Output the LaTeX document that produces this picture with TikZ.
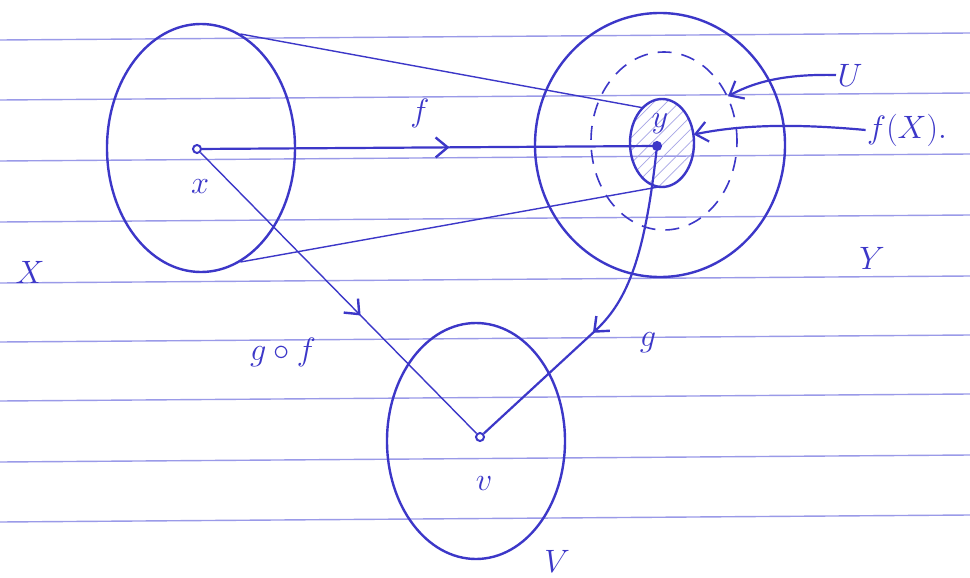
\documentclass[tikz,border=0pt]{standalone}
\usepackage{tikz}
\usetikzlibrary{arrows.meta,shapes.geometric,decorations.markings,patterns.meta}
\definecolor{ink}{HTML}{3C37C8}
\definecolor{ruleline}{HTML}{9A9AE8}

\begin{document}
\begin{tikzpicture}[
  x=1pt, y=-1pt,
  setshape/.style={ellipse,draw=ink,line width=2.4pt,inner sep=0pt},
  dotpt/.style={circle,draw=ink,line width=2pt,minimum size=8pt,inner sep=0pt},
  lbl/.style={text=ink,font=\Huge,scale=1.3,inner sep=1pt},
  thickarr/.style={draw=ink,line width=2.2pt},
  thinarr/.style={draw=ink,line width=1.4pt},
  midarrow/.style={postaction={decorate},decoration={markings,
    mark=at position #1 with {\arrow{Straight Barb[length=12pt,width=20pt,line width=2.4pt]}}}},
  ptr/.style={draw=ink,line width=2.2pt,-{Straight Barb[length=12pt,width=20pt]}}
]
\useasboundingbox (0,0) rectangle (970,578);
\fill[white] (0,0) rectangle (970,578);

% ruled paper
\foreach \ly in {40,100,161,222,283,342,401,462,522}
  \draw[ruleline,line width=1.4pt] (0,\ly) -- (970,\ly-7);

% sets
\node[setshape,minimum width=188pt,minimum height=248pt] (setX) at (201,148) {};
\node[setshape,minimum width=250pt,minimum height=264pt] (setY) at (660,145) {};
\node[setshape,dashed,dash pattern=on 14pt off 10pt,line width=1.6pt,
      minimum width=146pt,minimum height=178pt] (U) at (664,141) {};
\node[setshape,pattern={Lines[angle=45,distance=9pt,line width=0.7pt]},pattern color=ink!45,
      minimum width=64pt,minimum height=88pt] (fX) at (662,143) {};
\node[setshape,minimum width=178pt,minimum height=236pt] (setV) at (476,441) {};

% points
\node[dotpt] (x) at (197,149) {};
\node[dotpt,fill=ink] (y) at (657,146) {};
\node[dotpt] (v) at (480,437) {};
\coordinate (gbend) at (596,330);

% image of X
\draw[thinarr] (setX.71) -- (fX.119);
\draw[thinarr] (setX.-71) -- (fX.-95);

% maps
\draw[thickarr,midarrow=0.55] (x) -- (y);
\draw[thinarr,midarrow=0.58] (x) -- (v);
\draw[thickarr,midarrow=0.57] (y) .. controls (645,255) and (628,300) .. (gbend) -- (v);

% labels
\node[lbl] (lblx) at (200,187) {$x$};
\node[lbl] (lblX) at (30,272) {$X$};
\node[lbl] (lblf) at (420,113) {$f$};
\node[lbl] (lbly) at (660,124) {$y$};
\node[lbl] (lblU) at (850,75) {$U$};
\node[lbl] (lblfX) at (907,130) {$f(X).$};
\node[lbl] (lblY) at (872,258) {$Y$};
\node[lbl] (lblg) at (648,343) {$g$};
\node[lbl] (lblgf) at (283,352) {$g\circ f$};
\node[lbl] (lblv) at (484,484) {$v$};
\node[lbl] (lblV) at (557,561) {$V$};

% pointers
\draw[ptr] (lblU.west) .. controls (790,74) and (758,80) .. (U.35);
\draw[ptr] (lblfX.west) .. controls (800,124) and (745,124) .. (fX.15);
\end{tikzpicture}
\end{document}
